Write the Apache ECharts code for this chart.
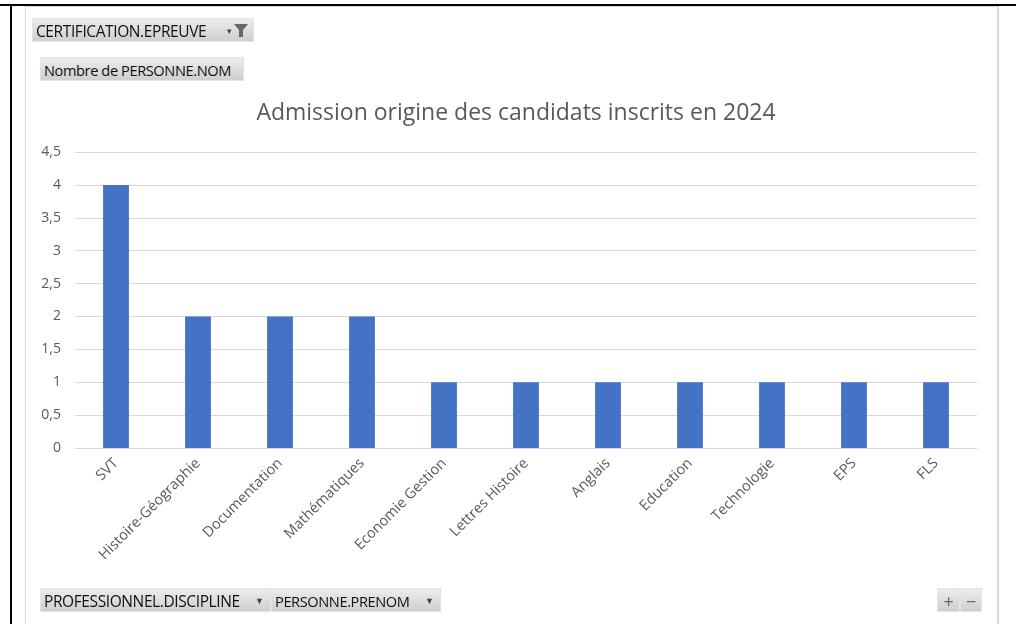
<!DOCTYPE html>
<html>
<head>
<meta charset="utf-8">
<script src="https://cdn.jsdelivr.net/npm/echarts@6/dist/echarts.min.js"></script>
<style>
  html, body { margin: 0; padding: 0; background: #fff; }
  #wrap { position: relative; width: 1016px; height: 624px; overflow: hidden; font-family: "Open Sans", "Noto Sans", sans-serif; }
  #chart { position: absolute; left: 0; top: 0; width: 1016px; height: 624px; }
  .line { position: absolute; }
  .btn {
    position: absolute; height: 24px; line-height: 24px; font-size: 15.5px; color: #111;
    background: linear-gradient(#ececec, #cfcfcf); border: 1px solid #e4e4e4; box-sizing: border-box;
    padding-left: 3px; white-space: nowrap; letter-spacing: -0.4px;
  }
  .arrow { position: absolute; top: 0; font-size: 9px; color: #444; letter-spacing: 0; }
</style>
</head>
<body>
<div id="wrap">
  <div id="chart"></div>
  <!-- cadre de la cellule -->
  <div class="line" style="left:0;top:4px;width:1016px;height:2px;background:#000"></div>
  <div class="line" style="left:10px;top:4px;width:2px;height:620px;background:#000"></div>
  <div class="line" style="left:25px;top:6px;width:973px;height:1px;background:#d9d9d9"></div>
  <div class="line" style="left:25px;top:6px;width:1px;height:618px;background:#d9d9d9"></div>
  <div class="line" style="left:997px;top:6px;width:2px;height:618px;background:#d9d9d9"></div>

  <!-- boutons du tableau croisé -->
  <div class="btn" style="left:32px;top:18px;width:222px;">CERTIFICATION.EPREUVE
    <span class="arrow" style="left:194px;">&#9662;</span>
    <svg style="position:absolute;left:201px;top:5px" width="14" height="14"><path d="M0 0 H14 L9 6 V13 H5 V6 Z" fill="#666"/></svg>
  </div>
  <div class="btn" style="left:40px;top:57px;width:204px;font-size:14.6px;">Nombre de PERSONNE.NOM</div>
  <div class="btn" style="left:40px;top:588px;width:231px;">PROFESSIONNEL.DISCIPLINE<span class="arrow" style="left:214px;">&#9660;</span></div>
  <div class="btn" style="left:271px;top:588px;width:170px;font-size:14.6px;">PERSONNE.PRENOM<span class="arrow" style="left:153px;">&#9660;</span></div>
  <div class="btn" style="left:937px;top:588px;width:23px;padding:0;text-align:center;font-size:18px;color:#666;">+</div>
  <div class="btn" style="left:960px;top:588px;width:22px;padding:0;text-align:center;font-size:18px;color:#666;">&minus;</div>
</div>
<script>
// données
var disciplines = ['SVT', 'Histoire-Géographie', 'Documentation', 'Mathématiques', 'Economie Gestion',
    'Lettres Histoire', 'Anglais', 'Education', 'Technologie', 'EPS', 'FLS'];
var nombres = [4, 2, 2, 2, 1, 1, 1, 1, 1, 1, 1];
var titre = 'Admission origine des candidats inscrits en 2024';

var chart = echarts.init(document.getElementById('chart'));

var option = {
    animation: false,
    textStyle: { fontFamily: '"Open Sans", "Noto Sans", sans-serif' },
    title: {
        text: titre,
        left: 511,
        textAlign: 'center',
        top: 97,
        textStyle: { fontSize: 23, fontWeight: 'normal', color: '#595959' }
    },
    grid: { left: 75, right: 39, top: 152, bottom: 176 },
    xAxis: {
        type: 'category',
        data: disciplines,
        axisTick: { show: false },
        axisLine: { lineStyle: { color: '#d9d9d9', width: 1 } },
        axisLabel: { rotate: 45, interval: 0, color: '#595959', fontSize: 14.5, margin: 13 }
    },
    yAxis: {
        type: 'value',
        min: 0,
        max: 4.5,
        interval: 0.5,
        axisLine: { show: false },
        axisTick: { show: false },
        splitLine: { lineStyle: { color: '#d9d9d9', width: 1 } },
        axisLabel: {
            color: '#595959', fontSize: 14, margin: 14,
            formatter: function (v) { return String(v).replace('.', ','); }
        }
    },
    series: [{
        name: 'Total',
        type: 'bar',
        data: nombres,
        barWidth: '31.5%',
        itemStyle: { color: '#4472c4' }
    }]
};

chart.setOption(option);
</script>
</body>
</html>
